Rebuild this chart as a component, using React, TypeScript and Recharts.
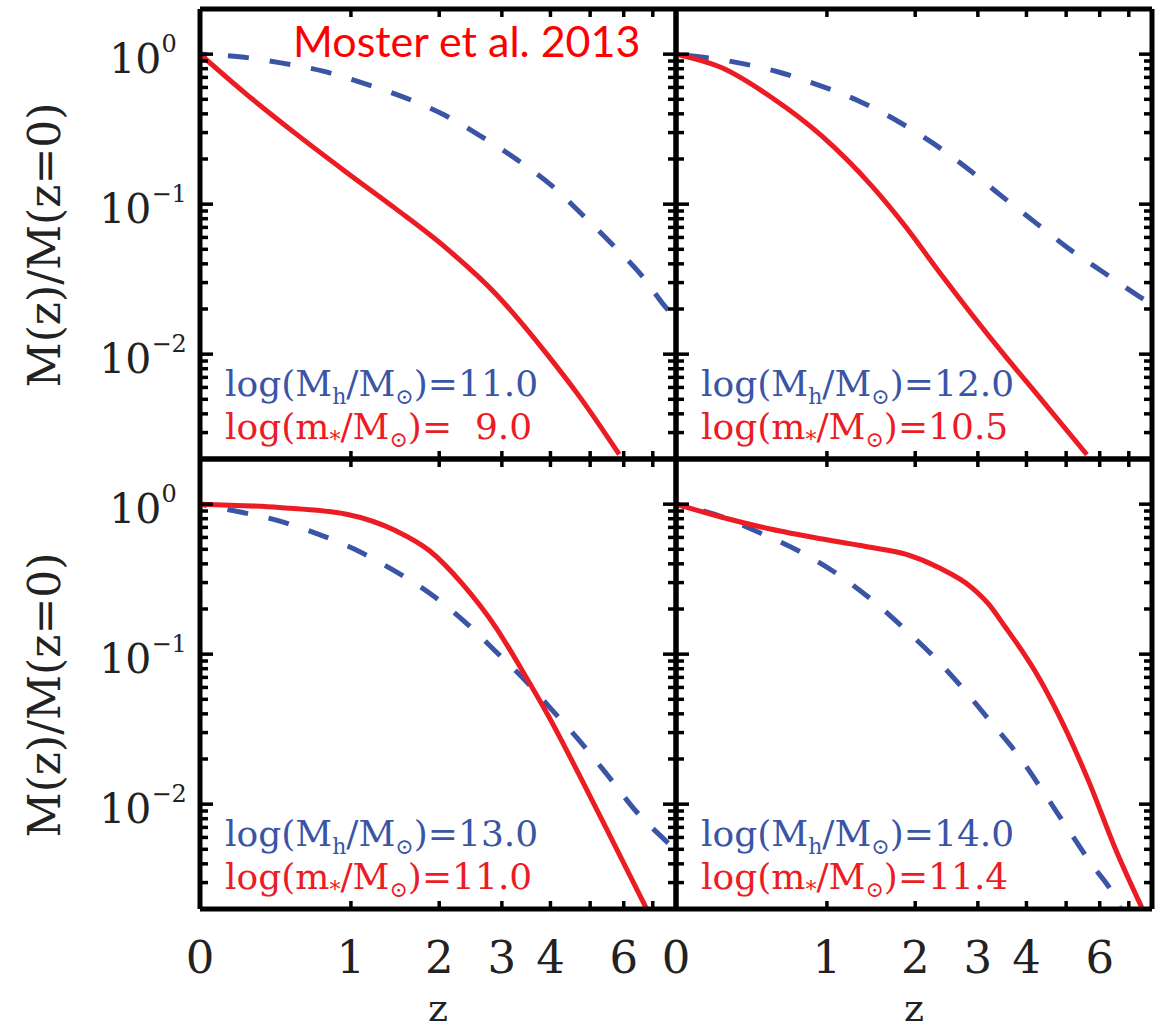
import { LineChart, Line, XAxis, YAxis } from "recharts";

const SERIF = '"DejaVu Serif", serif';
const RED = "#ec1c24";
const BLUE = "#3a55a6";

const Z_MAX = 7.9;
const Y_DOMAIN = [0.002, 2];

// x axis is log(1+z); ticks at these redshifts, labels only on some
const zTicks = [0, 1, 2, 3, 4, 5, 6, 7];
const zLabels = [0, 1, 2, 3, 4, 6];

// y axis decades and minor ticks
const yMajor = [0.01, 0.1, 1];
const yMajorExp = ["\u22122", "\u22121", "0"];
const yMinor = [
  0.002, 0.003, 0.004, 0.005, 0.006, 0.007, 0.008, 0.009,
  0.02, 0.03, 0.04, 0.05, 0.06, 0.07, 0.08, 0.09,
  0.2, 0.3, 0.4, 0.5, 0.6, 0.7, 0.8, 0.9,
];

// log(Mh)=11.0 / log(m*)=9.0
const haloZ11 = [0, 0.2, 0.45, 0.76, 1.13, 1.57, 2.06, 2.63, 3.28, 4.03, 4.79, 5.6, 6.63, 7.55, 7.9];
const haloM11 = [1, 0.96, 0.875, 0.77, 0.637, 0.511, 0.396, 0.284, 0.199, 0.133, 0.085, 0.055, 0.033, 0.02, 0.0175];
const starZ9 = [0, 0.235, 0.554, 0.955, 1.459, 2.094, 2.891, 3.897, 4.705, 5.855];
const starM9 = [1, 0.544, 0.294, 0.164, 0.093, 0.0511, 0.0252, 0.0102, 0.00525, 0.00215];

// log(Mh)=12.0 / log(m*)=10.5
const haloZ12 = [0, 0.31, 0.6, 0.93, 1.32, 1.77, 2.26, 2.82, 3.45, 4.22, 5.05, 6.13, 7.37, 7.9];
const haloM12 = [1, 0.885, 0.76, 0.62, 0.486, 0.357, 0.254, 0.172, 0.114, 0.075, 0.051, 0.035, 0.0244, 0.0215];
const starZ105 = [0, 0.235, 0.554, 0.955, 1.459, 1.866, 2.341, 2.891, 3.536, 4.285, 5.6];
const starM105 = [1, 0.811, 0.512, 0.284, 0.132, 0.0713, 0.0357, 0.0184, 0.0097, 0.00525, 0.00214];

// log(Mh)=13.0 / log(m*)=11.0
const haloZ13 = [0, 0.17, 0.42, 0.71, 1.05, 1.44, 1.89, 2.37, 2.88, 3.43, 4.05, 4.75, 5.55, 6.4, 7.49, 7.9];
const haloM13 = [1, 0.903, 0.782, 0.637, 0.494, 0.36, 0.251, 0.165, 0.105, 0.068, 0.042, 0.0258, 0.0151, 0.009, 0.0057, 0.0049];
const starZ11 = [0, 0.44, 0.96, 1.46, 1.87, 2.34, 2.89, 3.4, 3.97, 4.7, 5.65, 6.75];
const starM11 = [1, 0.95, 0.857, 0.664, 0.489, 0.293, 0.151, 0.077, 0.038, 0.0158, 0.0057, 0.00205];

// log(Mh)=14.0 / log(m*)=11.4
const haloZ14 = [0, 0.24, 0.48, 0.78, 1.11, 1.47, 1.86, 2.3, 2.77, 3.27, 3.84, 4.41, 5.02, 5.7, 6.51, 6.69];
const haloM14 = [1, 0.82, 0.637, 0.476, 0.338, 0.227, 0.147, 0.093, 0.057, 0.0345, 0.0207, 0.012, 0.007, 0.0041, 0.0024, 0.00205];
const starZ114 = [0, 0.24, 0.55, 0.96, 1.46, 1.87, 2.34, 2.89, 3.2, 3.54, 3.9, 4.29, 4.7, 5.65, 6.51, 7.49];
const starM114 = [1, 0.815, 0.68, 0.585, 0.514, 0.464, 0.378, 0.278, 0.216, 0.151, 0.105, 0.07, 0.044, 0.0143, 0.0051, 0.00205];

const haloLabels = ["11.0", "12.0", "13.0", "14.0"];
const starLabels = ["  9.0", "10.5", "11.0", "11.4"];

const lz = (z: number) => Math.log10(1 + z);
const toPoints = (zs: number[], ms: number[]) => zs.map((z, i) => ({ x: lz(z), m: ms[i] }));

const xTicks = zTicks.map(lz);
const yTicks = [...yMinor, ...yMajor].sort((a, b) => a - b);

const panels = [
  { halo: toPoints(haloZ11, haloM11), star: toPoints(starZ9, starM9), left: 0, top: 0, w: 690, h: 470, mt: 8, mr: 13, yw: 200, xh: 11, yLabels: true, xLabels: false, dash: 14 },
  { halo: toPoints(haloZ12, haloM12), star: toPoints(starZ105, starM105), left: 662, top: 0, w: 494, h: 470, mt: 8, mr: 3, yw: 14, xh: 11, yLabels: false, xLabels: false, dash: 30 },
  { halo: toPoints(haloZ13, haloM13), star: toPoints(starZ11, starM11), left: 0, top: 445, w: 690, h: 584, mt: 13, mr: 13, yw: 200, xh: 120, yLabels: true, xLabels: true, dash: 14 },
  { halo: toPoints(haloZ14, haloM14), star: toPoints(starZ114, starM114), left: 662, top: 445, w: 494, h: 584, mt: 13, mr: 3, yw: 14, xh: 120, yLabels: false, xLabels: true, dash: 14 },
];

const TICK_W = 3.5;

function LeftTick(props: any) {
  const { x, y, payload, showLabel } = props;
  const i = yMajor.indexOf(payload.value);
  const len = i >= 0 ? 13 : 8;
  return (
    <g>
      <line x1={x} x2={x + len} y1={y} y2={y} stroke="#000" strokeWidth={TICK_W} />
      {showLabel && i >= 0 && (
        <text x={x - 57} y={y + 19} textAnchor="middle" fontFamily={SERIF} fontSize={41} fill="#222">
          10<tspan fontSize={24} dy={-21}>{yMajorExp[i]}</tspan>
        </text>
      )}
    </g>
  );
}

function RightTick(props: any) {
  const { x, y, payload } = props;
  const len = yMajor.includes(payload.value) ? 13 : 8;
  return <line x1={x} x2={x - len} y1={y} y2={y} stroke="#000" strokeWidth={TICK_W} />;
}

function BottomTick(props: any) {
  const { x, y, payload, showLabel } = props;
  const z = Math.round(Math.pow(10, payload.value) - 1);
  return (
    <g>
      <line x1={x} x2={x} y1={y} y2={y - 8} stroke="#000" strokeWidth={TICK_W} />
      {showLabel && zLabels.includes(z) && (
        <text x={x} y={y + 64} textAnchor="middle" fontFamily={SERIF} fontSize={45} fill="#222">
          {z}
        </text>
      )}
    </g>
  );
}

function TopTick(props: any) {
  const { x, y } = props;
  return <line x1={x} x2={x} y1={y} y2={y + 8} stroke="#000" strokeWidth={TICK_W} />;
}

function MassLabel({ x, y, color, sym, sub, val }: any) {
  return (
    <text x={x} y={y} fill={color} fontFamily={SERIF} fontSize={36} style={{ whiteSpace: "pre" }}>
      log({sym}
      <tspan fontSize={22} dy={8}>{sub}</tspan>
      <tspan dy={-8}>/M</tspan>
      <tspan fontSize={22} dy={8}>{"\u2299"}</tspan>
      <tspan dy={-8}>{")=" + val}</tspan>
    </text>
  );
}

const border = { stroke: "#000", strokeWidth: 5 };

export default function App() {
  return (
    <div style={{ position: "absolute", left: 0, top: 0, width: 1156, height: 1029, background: "#fff", overflow: "hidden" }}>
      {panels.map((p, k) => {
        const plotLeft = p.yw;
        const plotBottom = p.h - p.xh;
        const plotMidY = (p.mt + 1 + plotBottom) / 2;
        const plotMidX = (plotLeft + p.w - p.mr - 1) / 2;
        return (
          <div key={k} style={{ position: "absolute", left: p.left, top: p.top }}>
            <LineChart width={p.w} height={p.h} margin={{ top: p.mt, right: p.mr, bottom: 0, left: 0 }}>
              <XAxis xAxisId="b" orientation="bottom" type="number" dataKey="x" domain={[0, lz(Z_MAX)]} allowDataOverflow
                ticks={xTicks} interval={0} tickSize={0} tickMargin={0} tickLine={false} axisLine={border} height={p.xh}
                tick={(t: any) => <BottomTick {...t} showLabel={p.xLabels} />} />
              <XAxis xAxisId="t" orientation="top" type="number" dataKey="x" domain={[0, lz(Z_MAX)]} allowDataOverflow
                ticks={xTicks} interval={0} tickSize={0} tickMargin={0} tickLine={false} axisLine={border} height={1}
                tick={(t: any) => <TopTick {...t} />} />
              <YAxis yAxisId="l" orientation="left" type="number" scale="log" domain={Y_DOMAIN} allowDataOverflow
                ticks={yTicks} interval={0} tickSize={0} tickMargin={0} tickLine={false} axisLine={border} width={p.yw}
                tick={(t: any) => <LeftTick {...t} showLabel={p.yLabels} />} />
              <YAxis yAxisId="r" orientation="right" type="number" scale="log" domain={Y_DOMAIN} allowDataOverflow
                ticks={yTicks} interval={0} tickSize={0} tickMargin={0} tickLine={false} axisLine={border} width={1}
                tick={(t: any) => <RightTick {...t} />} />
              <Line xAxisId="t" yAxisId="r" data={p.halo} dataKey="m" type="monotone" stroke="none" strokeWidth={0}
                dot={false} activeDot={false} isAnimationActive={false} />
              <Line xAxisId="b" yAxisId="l" data={p.halo} dataKey="m" type="monotone" stroke={BLUE} strokeWidth={5}
                strokeDasharray="21 21" strokeDashoffset={p.dash} dot={false} isAnimationActive={false} />
              <Line xAxisId="b" yAxisId="l" data={p.star} dataKey="m" type="monotone" stroke={RED} strokeWidth={5}
                dot={false} isAnimationActive={false} />
              <MassLabel x={plotLeft + 25} y={plotBottom - 63} color={BLUE} sym="M" sub="h" val={haloLabels[k]} />
              <MassLabel x={plotLeft + 25} y={plotBottom - 20} color={RED} sym="m" sub="*" val={starLabels[k]} />
              {p.yLabels && (
                <text transform={`translate(60, ${plotMidY + 11}) rotate(-90)`} textAnchor="middle" fontFamily={SERIF} fontSize={44} fill="#222">
                  M(z)/M(z=0)
                </text>
              )}
              {p.xLabels && (
                <text x={plotMidX} y={p.h - 8} textAnchor="middle" fontFamily={SERIF} fontSize={38} fill="#222">
                  z
                </text>
              )}
              {k === 0 && (
                <text x={293} y={57} fontFamily="Lato, 'Open Sans', sans-serif" fontSize={43} fill="#ff0000">
                  Moster et al. 2013
                </text>
              )}
            </LineChart>
          </div>
        );
      })}
    </div>
  );
}
